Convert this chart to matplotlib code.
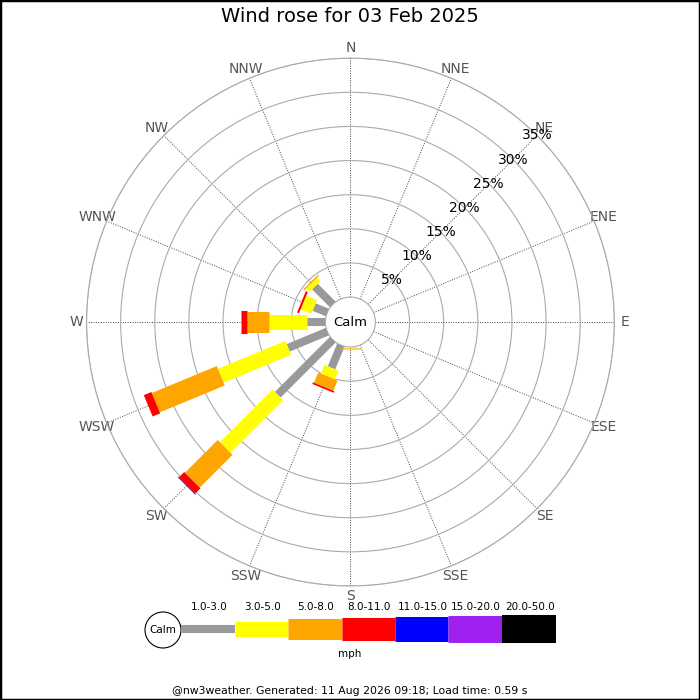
import numpy as np
import matplotlib
matplotlib.use("Agg")
import matplotlib.pyplot as plt
from matplotlib.patches import Circle, Rectangle

# Wind rose, 16 compass points, percentage of time per speed class

directions = ['N', 'NNE', 'NE', 'ENE', 'E', 'ESE', 'SE', 'SSE',
              'S', 'SSW', 'SW', 'WSW', 'W', 'WNW', 'NW', 'NNW']

speed_bins = ['1.0-3.0', '3.0-5.0', '5.0-8.0', '8.0-11.0',
              '11.0-15.0', '15.0-20.0', '20.0-50.0']
bin_colors = ['#999999', '#ffff00', '#ffa500', '#ff0000',
              '#0000ff', '#a020f0', '#000000']

# percentages per speed class (not cumulative), one value per direction
pct_1_3   = [0, 0, 0, 0, 0, 0, 0, 0, 0.05, 3.6, 11.4, 6.2, 2.7, 2.1, 3.7, 0]
pct_3_5   = [0, 0, 0, 0, 0, 0, 0, 0, 0.15, 1.4, 10.9, 10.7, 5.5, 1.7, 0.7, 0]
pct_5_8   = [0, 0, 0, 0, 0, 0, 0, 0, 0.15, 1.6, 6.8, 10.3, 3.3, 0, 0.2, 0]
pct_8_11  = [0, 0, 0, 0, 0, 0, 0, 0, 0, 0.25, 1.1, 1.2, 0.8, 0.3, 0, 0]
pct_11_15 = [0, 0, 0, 0, 0, 0, 0, 0, 0, 0, 0.1, 0, 0, 0, 0, 0]
pct_15_20 = [0] * 16
pct_20_50 = [0] * 16

ring_values = [5, 10, 15, 20, 25, 30, 35]

title = 'Wind rose for 03 Feb 2025'
footer = '@nw3weather. Generated: 11 Aug 2026 09:18; Load time: 0.59 s'

fig = plt.figure(figsize=(7, 7), dpi=100)

# frame around the picture
fig.patches.append(Rectangle((0, 0), 1, 1, transform=fig.transFigure,
                             fill=False, edgecolor='black', linewidth=2.5))

# ---- rose ----
ax = fig.add_axes([0.1236, 0.1629, 0.754, 0.754], projection='polar')
ax.set_theta_zero_location('N')
ax.set_theta_direction(-1)
ax.set_rorigin(-3.66)
ax.set_rlim(0, 35)

angles = np.arange(16) * 22.5
ax.set_thetagrids(angles, labels=directions, color='#555555', fontsize=10)
ax.set_rgrids(ring_values, labels=[''] * len(ring_values))
ax.grid(axis='x', linestyle=(0, (1, 1.5)), color='#444444', linewidth=0.7)
ax.grid(axis='y', linestyle='-', color='#aaaaaa', linewidth=0.8)
ax.tick_params(axis='x', pad=-3)
for name, sp in ax.spines.items():
    sp.set_color('#aaaaaa')
    sp.set_linewidth(0.8)

# bar widths in points, one per speed class
bar_widths = [5.8, 10.8, 15.1, 16.6, 18.0, 19.4, 20.2]
all_bins = [pct_1_3, pct_3_5, pct_5_8, pct_8_11, pct_11_15, pct_15_20, pct_20_50]

theta = np.deg2rad(angles)
cum = np.zeros(16)
for vals, col, lw in zip(all_bins, bin_colors, bar_widths):
    vals = np.array(vals, dtype=float)
    for i in range(16):
        if vals[i] > 0:
            ax.plot([theta[i], theta[i]], [cum[i], cum[i] + vals[i]],
                    color=col, linewidth=lw, solid_capstyle='butt', zorder=3)
    cum += vals

for rv in ring_values:
    ax.text(np.deg2rad(45), rv, f'{rv}%', ha='center', va='center',
            fontsize=10, color='black', zorder=4)

ax.text(0, -3.66, 'Calm', ha='center', va='center', fontsize=9.5, zorder=4)

fig.text(0.5, 1 - 17 / 700, title, ha='center', va='center', fontsize=14)

# ---- legend, drawn in pixel coordinates ----
lax = fig.add_axes([0, 0, 1, 1])
lax.set_xlim(0, 700)
lax.set_ylim(700, 0)
lax.axis('off')

lax.add_patch(Circle((163, 630), 18, fill=False, edgecolor='black', linewidth=0.8))
lax.text(163, 630, 'Calm', ha='center', va='center', fontsize=7.5)
seg_x = [181, 235, 288, 341.5, 395, 448, 502, 556]
for k, (lab, col, lw) in enumerate(zip(speed_bins, bin_colors, bar_widths)):
    lax.plot([seg_x[k], seg_x[k + 1]], [629, 629], color=col, linewidth=lw,
             solid_capstyle='butt')
    lax.text((seg_x[k] + seg_x[k + 1]) / 2 + 1, 607, lab, ha='center',
             va='center', fontsize=7.5)
lax.text(350, 654, 'mph', ha='center', va='center', fontsize=7.5)

fig.text(0.5, 1 - 691 / 700, footer, ha='center', va='center', fontsize=7.8)

fig.savefig('out.png', dpi=100)
